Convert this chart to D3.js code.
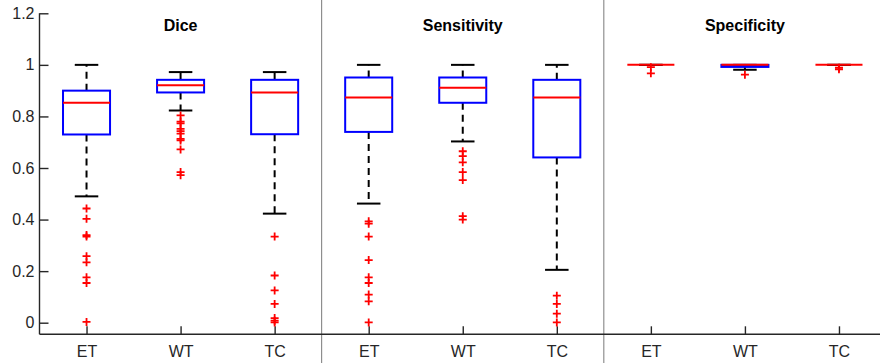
<!DOCTYPE html>
<html>
<head>
<meta charset="utf-8">
<script src="https://cdn.jsdelivr.net/npm/d3@7"></script>
<style>
  body { margin: 0; background: #fff; }
  text { font-family: "Liberation Sans", Arial, sans-serif; }
</style>
</head>
<body>
<div id="chart"></div>
<script>
// panels and classes
const metrics = ["Dice", "Sensitivity", "Specificity"];
const classes = ["ET", "WT", "TC"];
const yTicks = [0, 0.2, 0.4, 0.6, 0.8, 1, 1.2];

// box stats per metric, one row per class: [lowWhisker, q1, median, q3, highWhisker]
const diceStats = [
  [0.49, 0.73, 0.853, 0.90, 1.0],
  [0.823, 0.893, 0.921, 0.942, 0.972],
  [0.423, 0.731, 0.893, 0.942, 0.972]
];
const sensStats = [
  [0.462, 0.74, 0.873, 0.951, 1.0],
  [0.703, 0.853, 0.911, 0.951, 1.0],
  [0.205, 0.641, 0.873, 0.942, 1.0]
];
const specStats = [
  [1.0, 1.0, 1.0, 1.0, 1.0],
  [0.981, 0.992, 1.0, 1.0, 1.0],
  [1.0, 1.0, 1.0, 1.0, 1.0]
];

// outliers
const diceOutliers = [
  [0.443, 0.403, 0.34, 0.334, 0.258, 0.234, 0.176, 0.154, 0.003],
  [0.804, 0.78, 0.773, 0.752, 0.743, 0.733, 0.713, 0.707, 0.672, 0.584, 0.572],
  [0.334, 0.183, 0.125, 0.073, 0.018, 0.008, 0.001]
];
const sensOutliers = [
  [0.393, 0.384, 0.334, 0.243, 0.176, 0.154, 0.109, 0.083, 0.001],
  [0.665, 0.646, 0.622, 0.584, 0.553, 0.413, 0.4],
  [0.105, 0.073, 0.035, 0.001]
];
const specOutliers = [
  [0.991, 0.967],
  [0.962],
  [0.989, 0.983]
];

const allStats = [diceStats, sensStats, specStats];
const allOutliers = [diceOutliers, sensOutliers, specOutliers];

const width = 880, height = 363;
const svg = d3.select("#chart").append("svg")
  .attr("width", width)
  .attr("height", height);

const x = d3.scaleLinear().domain([0.5, 9.5]).range([39.5, 886]);
const y = d3.scaleLinear().domain([-0.045, 1.2]).range([334.3, 13.3]);

// flatten into boxes
const boxes = [];
metrics.forEach((m, mi) => {
  classes.forEach((c, ci) => {
    const s = allStats[mi][ci];
    boxes.push({
      pos: mi * 3 + ci + 1, label: c,
      lo: s[0], q1: s[1], med: s[2], q3: s[3], hi: s[4],
      out: allOutliers[mi][ci]
    });
  });
});

// panel dividers
svg.selectAll(".divider")
  .data([3.5, 6.5])
  .enter().append("line")
  .attr("x1", d => x(d)).attr("x2", d => x(d))
  .attr("y1", 0).attr("y2", height)
  .attr("stroke", "#7a7a7a").attr("stroke-width", 1);

// titles
svg.selectAll(".title")
  .data(metrics)
  .enter().append("text")
  .attr("x", (d, i) => x(i * 3 + 2))
  .attr("y", 31)
  .attr("text-anchor", "middle")
  .attr("font-size", 16)
  .attr("font-weight", "bold")
  .text(d => d);

// y axis
const yAxis = d3.axisLeft(y).tickValues(yTicks).tickSize(-9).tickPadding(5)
  .tickFormat(d => d3.format("")(d));
const gy = svg.append("g").attr("transform", `translate(${x(0.5)},0)`).call(yAxis);
gy.select(".domain").attr("d", `M0,${y(1.2)}V${y(-0.045)}`);

// x axis
const xAxis = d3.axisBottom(x).tickValues(boxes.map(b => b.pos))
  .tickFormat((d, i) => boxes[i].label).tickSize(-8).tickPadding(11.5);
const gx = svg.append("g").attr("transform", `translate(0,${y(-0.045)})`).call(xAxis);
gx.select(".domain").attr("d", `M${x(0.5)},0H${x(9.5)}`);

[gx, gy].forEach(g => {
  g.select(".domain").attr("stroke", "#262626").attr("stroke-width", 1.4);
  g.selectAll(".tick line").attr("stroke", "#262626").attr("stroke-width", 1.4);
  g.selectAll(".tick text").attr("fill", "#262626").attr("font-size", 16)
    .style("font-family", "'Liberation Sans', Arial, sans-serif");
});

const boxW = x(1.25) - x(1);
const capW = x(1.125) - x(1);

const g = svg.selectAll(".box")
  .data(boxes)
  .enter().append("g");

// whiskers
g.append("line")
  .attr("x1", d => x(d.pos)).attr("x2", d => x(d.pos))
  .attr("y1", d => y(d.q3)).attr("y2", d => y(d.hi))
  .attr("stroke", "#000").attr("stroke-width", 2).attr("stroke-dasharray", "7,5");
g.append("line")
  .attr("x1", d => x(d.pos)).attr("x2", d => x(d.pos))
  .attr("y1", d => y(d.q1)).attr("y2", d => y(d.lo))
  .attr("stroke", "#000").attr("stroke-width", 2).attr("stroke-dasharray", "7,5");
// caps
g.append("line")
  .attr("x1", d => x(d.pos) - capW).attr("x2", d => x(d.pos) + capW)
  .attr("y1", d => y(d.hi)).attr("y2", d => y(d.hi))
  .attr("stroke", "#000").attr("stroke-width", 2);
g.append("line")
  .attr("x1", d => x(d.pos) - capW).attr("x2", d => x(d.pos) + capW)
  .attr("y1", d => y(d.lo)).attr("y2", d => y(d.lo))
  .attr("stroke", "#000").attr("stroke-width", 2);

// box
g.append("rect")
  .attr("x", d => x(d.pos) - boxW)
  .attr("y", d => y(d.q3))
  .attr("width", boxW * 2)
  .attr("height", d => y(d.q1) - y(d.q3))
  .attr("fill", "none").attr("stroke", "#0000ff").attr("stroke-width", 2);

// median
g.append("line")
  .attr("x1", d => x(d.pos) - boxW).attr("x2", d => x(d.pos) + boxW)
  .attr("y1", d => y(d.med)).attr("y2", d => y(d.med))
  .attr("stroke", "#ff0000").attr("stroke-width", 2);

// outliers
g.selectAll(".out")
  .data(d => d.out.map(v => ({ pos: d.pos, v })))
  .enter().append("path")
  .attr("d", d => {
    const cx = x(d.pos), cy = y(d.v), r = 4;
    return `M${cx - r},${cy}H${cx + r}M${cx},${cy - r}V${cy + r}`;
  })
  .attr("stroke", "#ff0000").attr("stroke-width", 1.8).attr("fill", "none");
</script>
</body>
</html>
